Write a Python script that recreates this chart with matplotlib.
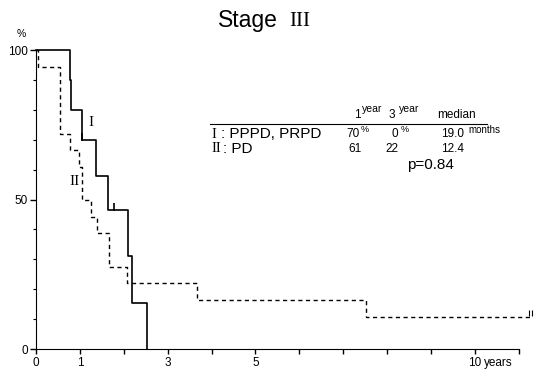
import numpy as np
import matplotlib
matplotlib.use("Agg")
import matplotlib.pyplot as plt

# curve I : PPPD, PRPD (solid)
t_one = [0, 0.77, 0.79, 1.04, 1.36, 1.65, 2.09, 2.19, 2.52]
s_one = [100, 90, 80, 70, 58, 46.4, 31, 15.5, 0]
cens_one_t = [1.04, 1.78]
cens_one_s = [71, 47.5]

# curve II : PD (dashed)
t_two = [0, 0.04, 0.55, 0.77, 0.98, 1.04, 1.25, 1.40, 1.66, 2.07, 3.66, 7.51, 11.29]
s_two = [100, 94.4, 72, 66.6, 61, 50, 44, 38.7, 27.3, 22, 16.4, 10.8, 10.8]
cens_two_t = [11.24, 11.30]
cens_two_s = [12, 12]

x_ticks = list(range(0, 12))
x_labels = {0: "0", 1: "1", 3: "3", 5: "5", 10: "10"}

SANS = ["Liberation Sans", "DejaVu Sans"]
SERIF = ["Liberation Serif", "DejaVu Serif"]

fig = plt.figure(figsize=(5.45, 3.72), dpi=100)
ax = fig.add_axes([36 / 545, 23 / 372, 1 - 36 / 545, 299 / 372])

ax.step(t_one, s_one, where="post", color="black", linewidth=1.2, clip_on=False)
ax.step(t_two, s_two, where="post", color="black", linewidth=1.0,
        linestyle=(0, (3, 2.5)), clip_on=False)
ax.plot(cens_one_t, cens_one_s, linestyle="none", marker="|", markersize=6,
        color="black", markeredgewidth=1.2)
ax.plot(cens_two_t, cens_two_s, linestyle="none", marker="|", markersize=5,
        color="black", markeredgewidth=0.8)

ax.set_xlim(0, 11.6)
ax.set_ylim(0, 100)

for s in ["top", "right"]:
    ax.spines[s].set_visible(False)
ax.spines["bottom"].set_bounds(0, 11)
ax.spines["left"].set_bounds(0, 100)

ax.set_xticks(x_ticks)
ax.set_xticklabels([x_labels.get(t, "") for t in x_ticks], family=SANS, fontsize=8.5)
ax.tick_params(axis="x", direction="out", length=3.7, width=1, pad=2)
ax.text(10.22, -0.027, "years", transform=ax.get_xaxis_transform(),
        ha="left", va="top", fontsize=8.5, family=SANS)

ax.set_yticks([0, 50, 100])
ax.set_yticklabels(["0", "50", "100"], family=SANS, fontsize=8.5)
ax.set_yticks(np.arange(10, 100, 10), minor=True)
ax.tick_params(axis="y", which="major", direction="out", length=4, width=1, pad=2)
ax.tick_params(axis="y", which="minor", direction="out", length=2.5, width=0.8)

# curve labels
ax.text(1.25, 75.6, "I", family=SERIF, fontsize=11, ha="center", va="center")
ax.text(0.87, 56, "II", family=SERIF, fontsize=11, ha="center", va="center")

# title and % sign
fig.text(218 / 545, 1 - 20 / 372, "Stage", family=SANS, fontsize=16.5,
         ha="left", va="center")
fig.text(300 / 545, 1 - 21 / 372, "III", family=SERIF, fontsize=15,
         ha="center", va="center")
fig.text(21 / 545, 1 - 34 / 372, "%", family=SANS, fontsize=7.5, ha="center", va="center")

# table
def px(x, y):
    return x / 545, 1 - y / 372

fig.add_artist(plt.Line2D([210 / 545, 487 / 545], [1 - 124 / 372] * 2,
                          color="black", linewidth=0.8))
fig.text(*px(357, 118), "1", family=SANS, fontsize=8.5, ha="center", va="baseline")
fig.text(*px(362, 112), "year", family=SANS, fontsize=7.5, ha="left", va="baseline")
fig.text(*px(392, 118), "3", family=SANS, fontsize=8.5, ha="center", va="baseline")
fig.text(*px(399, 112), "year", family=SANS, fontsize=7.5, ha="left", va="baseline")
fig.text(*px(437, 118), "median", family=SANS, fontsize=8.5, ha="left", va="baseline")

fig.text(*px(211, 134), "I", family=SERIF, fontsize=10.5, ha="left", va="center")
fig.text(*px(221, 134), ": PPPD, PRPD", family=SANS, fontsize=11, ha="left", va="center")
fig.text(*px(346, 134), "70", family=SANS, fontsize=8.5, ha="left", va="center")
fig.text(*px(361, 130), "%", family=SANS, fontsize=6.5, ha="left", va="center")
fig.text(*px(392, 134), "0", family=SANS, fontsize=8.5, ha="left", va="center")
fig.text(*px(401, 130), "%", family=SANS, fontsize=6.5, ha="left", va="center")
fig.text(*px(441, 134), "19.0", family=SANS, fontsize=8.5, ha="left", va="center")
fig.text(*px(468, 130), "months", family=SANS, fontsize=7, ha="left", va="center")

fig.text(*px(211, 149), "II", family=SERIF, fontsize=10.5, ha="left", va="center")
fig.text(*px(223, 149), ": PD", family=SANS, fontsize=11, ha="left", va="center")
fig.text(*px(348, 149), "61", family=SANS, fontsize=8.5, ha="left", va="center")
fig.text(*px(385, 149), "22", family=SANS, fontsize=8.5, ha="left", va="center")
fig.text(*px(441, 149), "12.4", family=SANS, fontsize=8.5, ha="left", va="center")

fig.text(*px(407, 165), "p=0.84", family=SANS, fontsize=11, ha="left", va="center")

fig.savefig("out.png", dpi=100)
